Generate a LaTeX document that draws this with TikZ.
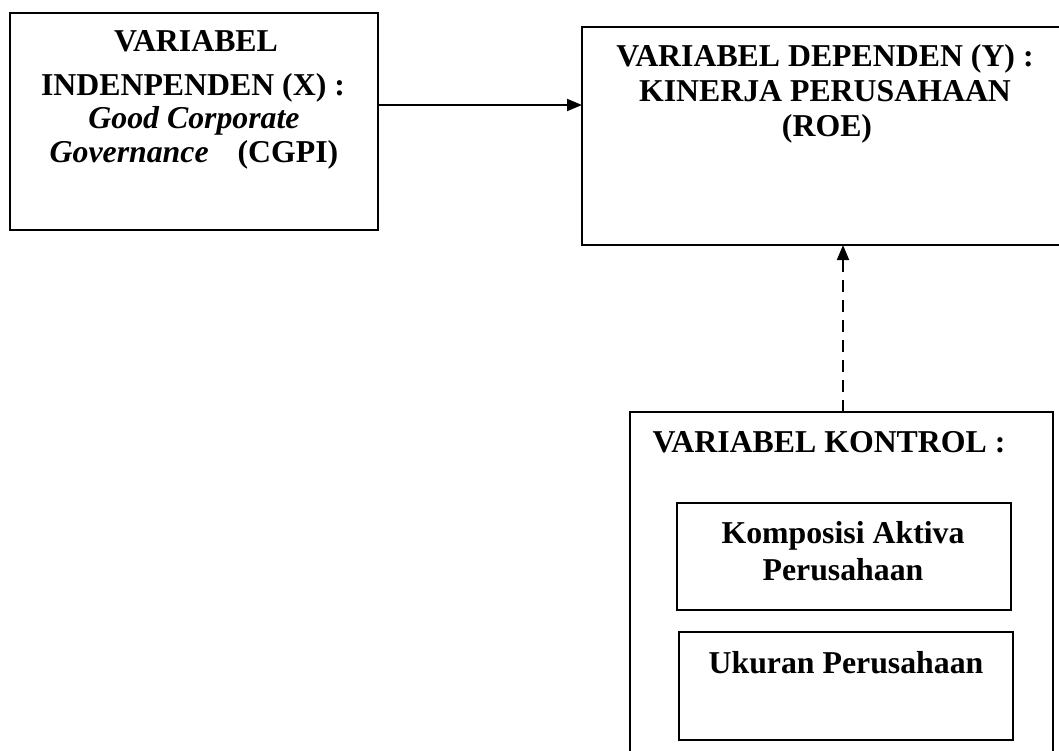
\documentclass[tikz,border=0pt]{standalone}
\usepackage{fontspec}
\setmainfont{Liberation Serif}
\usetikzlibrary{arrows.meta}
\begin{document}
\begin{tikzpicture}[x=1pt,y=-1pt,
  box/.style={draw=black,line width=1.8pt,rectangle,inner sep=0pt,outer sep=0pt,anchor=north west},
  ibox/.style={draw=black,line width=1.5pt,rectangle,inner sep=0pt,outer sep=0pt,anchor=north west},
  txt/.style={anchor=base,inner sep=0pt,font=\fontsize{31.8}{36}\selectfont\bfseries},
  arr/.style={line width=1.8pt,-{Triangle[length=15pt,width=12pt]}},
  darr/.style={line width=1.8pt,dash pattern=on 12pt off 8pt,-{Triangle[length=15pt,width=12pt]}}]
\clip (0,0) rectangle (1059,751);
\fill[white] (0,0) rectangle (1059,751);
% boxes
\node[box,minimum width=368pt,minimum height=217pt] (X) at (10,13) {};
\node[box,minimum width=485pt,minimum height=218pt] (Y) at (582,27) {};
\node[box,minimum width=423pt,minimum height=350pt] (K) at (630,412) {};
\node[ibox,minimum width=334pt,minimum height=107pt] (K1) at (677,503) {};
\node[ibox,minimum width=334pt,minimum height=108pt] (K2) at (679,632) {};
% texts
\node[txt] (x1) at (196,52) {VARIABEL};
\node[txt] (x2) at (193,96) {INDENPENDEN (X) :};
\node[txt] (x3) at (194,129) {\itshape Good Corporate};
\node[txt] (x4) at (194,163) {\textit{Governance}\hspace{29pt}(CGPI)};
\node[txt] (y1) at (825,67) {VARIABEL DEPENDEN (Y) :};
\node[txt] (y2) at (825,102) {KINERJA PERUSAHAAN};
\node[txt] (y3) at (827,137) {(ROE)};
\node[txt] (k1) at (829,452) {VARIABEL KONTROL :};
\node[txt] (k2) at (843,543) {Komposisi Aktiva};
\node[txt] (k3) at (843,580) {Perusahaan};
\node[txt] (k4) at (846,673) {Ukuran Perusahaan};
% connectors
\draw[arr] ([yshift=16.5pt]X.east) -- ([yshift=16.5pt]X.east -| Y.west);
\draw[darr] ([xshift=1.5pt]K.north) -- ([xshift=1.5pt]K.north |- Y.south);
\end{tikzpicture}
\end{document}
